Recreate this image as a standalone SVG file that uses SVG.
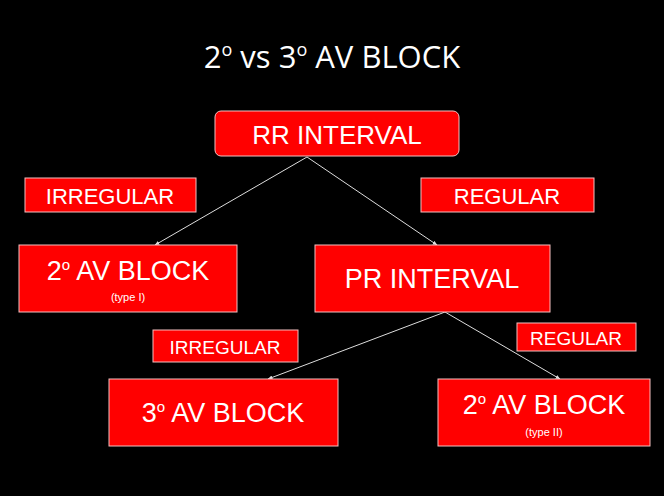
<svg xmlns="http://www.w3.org/2000/svg" width="664" height="496" viewBox="0 0 664 496">
<defs>
<style>
.b{fill:#ff0000;stroke:#f4c0c0;stroke-width:1}
.t{fill:#fff;font-family:"Liberation Sans",Arial,sans-serif;text-anchor:middle}
.c{stroke:#ddd;stroke-width:1;fill:none;marker-end:url(#a)}
</style>
<marker id="a" viewBox="0 0 10 10" refX="9" refY="5" markerWidth="5" markerHeight="5" orient="auto"><path d="M0,1 L10,5 L0,9 z" fill="#ddd"/></marker>
</defs>
<rect width="664" height="496" fill="#000"/>
<text x="332" y="68" class="t" style="font-family:'Open Sans',sans-serif;font-size:31px">2<tspan font-size="18" dy="-12">o</tspan><tspan dy="12"> vs 3</tspan><tspan font-size="18" dy="-12">o</tspan><tspan dy="12"> AV BLOCK</tspan></text>
<g id="connectors">
<line class="c" x1="307" y1="157" x2="155" y2="245"/>
<line class="c" x1="307" y1="157" x2="437" y2="245"/>
<line class="c" x1="445" y1="312" x2="268" y2="379"/>
<line class="c" x1="445" y1="312" x2="560" y2="379"/>
</g>
<g id="rr"><rect class="b" x="215" y="111" width="244" height="45" rx="6"/><text x="337" y="144" class="t" font-size="26">RR INTERVAL</text></g>
<g id="irr1"><rect class="b" x="25" y="178" width="171" height="34"/><text x="110" y="204" class="t" font-size="22">IRREGULAR</text></g>
<g id="reg1"><rect class="b" x="421" y="178" width="173" height="34"/><text x="507" y="204" class="t" font-size="22">REGULAR</text></g>
<g id="av2a"><rect class="b" x="19" y="245" width="218" height="67"/><text x="128" y="280" class="t" font-size="27">2<tspan font-size="15" dy="-10">o</tspan><tspan dy="10"> AV BLOCK</tspan></text><text x="128" y="301" class="t" font-size="11">(type I)</text></g>
<g id="pr"><rect class="b" x="315" y="245" width="235" height="67"/><text x="432" y="288" class="t" font-size="27">PR INTERVAL</text></g>
<g id="irr2"><rect class="b" x="153" y="330" width="145" height="32"/><text x="225" y="354" class="t" font-size="19">IRREGULAR</text></g>
<g id="reg2"><rect class="b" x="517" y="323" width="119" height="28"/><text x="576" y="345" class="t" font-size="19">REGULAR</text></g>
<g id="av3"><rect class="b" x="109" y="379" width="229" height="67"/><text x="223" y="422" class="t" font-size="27">3<tspan font-size="15" dy="-10">o</tspan><tspan dy="10"> AV BLOCK</tspan></text></g>
<g id="av2b"><rect class="b" x="438" y="379" width="212" height="67"/><text x="544" y="414" class="t" font-size="27">2<tspan font-size="15" dy="-10">o</tspan><tspan dy="10"> AV BLOCK</tspan></text><text x="544" y="436" class="t" font-size="11">(type II)</text></g>
</svg>
